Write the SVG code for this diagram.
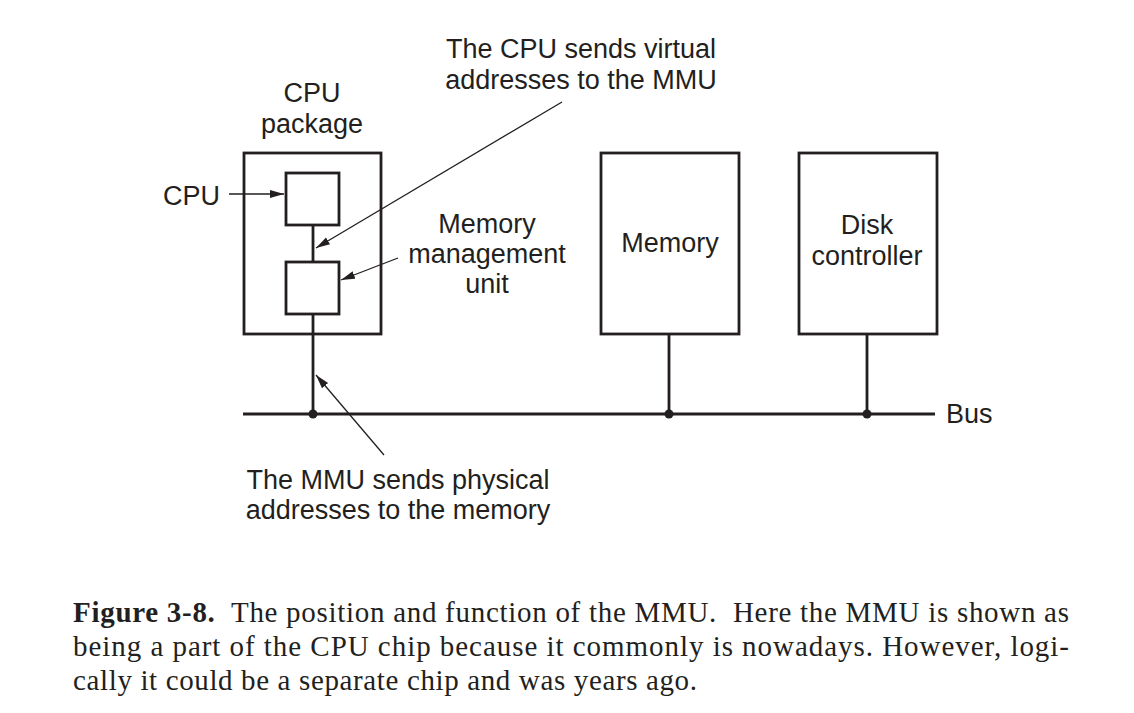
<svg xmlns="http://www.w3.org/2000/svg" width="1134" height="713" viewBox="0 0 1134 713">
<style>
.box{fill:none;stroke:#231f20;stroke-width:2.8}
.wire{fill:none;stroke:#231f20;stroke-width:2.8}
.ptr{fill:none;stroke:#231f20;stroke-width:1.3}
.dot{fill:#231f20}
.lbl{font-family:"Liberation Sans",Arial,sans-serif;font-size:27px;fill:#231f20}
.mid{text-anchor:middle}
.cap{font-family:"Liberation Serif","Times New Roman",serif;font-size:29px;fill:#231f20}
</style>
<defs>
<marker id="ah" markerUnits="userSpaceOnUse" markerWidth="16" markerHeight="10" refX="14" refY="4" orient="auto">
<path d="M0,0 L14,4 L0,8 z" fill="#231f20"/>
</marker>
</defs>
<rect width="1134" height="713" fill="#ffffff"/>

<g id="cpu-package">
<rect class="box" x="244" y="153" width="137" height="181"/>
<text class="lbl mid" x="312" y="102">CPU</text>
<text class="lbl mid" x="312" y="133">package</text>
</g>
<g id="cpu">
<rect class="box" x="286" y="173" width="53" height="52"/>
<text class="lbl" x="220" y="205" text-anchor="end">CPU</text>
</g>
<g id="mmu">
<rect class="box" x="286" y="262" width="53" height="52"/>
<text class="lbl mid" x="487" y="233">Memory</text>
<text class="lbl mid" x="487" y="263">management</text>
<text class="lbl mid" x="487" y="293">unit</text>
</g>
<g id="memory">
<rect class="box" x="601" y="153" width="138" height="181"/>
<text class="lbl mid" x="670" y="252">Memory</text>
</g>
<g id="disk-controller">
<rect class="box" x="799" y="153" width="138" height="181"/>
<text class="lbl mid" x="867" y="234">Disk</text>
<text class="lbl mid" x="867" y="265">controller</text>
</g>
<g id="bus">
<line class="wire" x1="243" y1="414" x2="935" y2="414"/>
<text class="lbl" x="946" y="423">Bus</text>
</g>
<g id="note-virtual">
<text class="lbl mid" x="581" y="58">The CPU sends virtual</text>
<text class="lbl mid" x="581" y="89">addresses to the MMU</text>
</g>
<g id="note-physical">
<text class="lbl mid" x="398" y="489">The MMU sends physical</text>
<text class="lbl mid" x="398" y="519">addresses to the memory</text>
</g>

<g id="connectors">
<line class="wire" x1="313" y1="225" x2="313" y2="262"/>
<line class="wire" x1="313" y1="314" x2="313" y2="414"/>
<line class="wire" x1="669" y1="334" x2="669" y2="414"/>
<line class="wire" x1="867" y1="334" x2="867" y2="414"/>
<circle class="dot" cx="313" cy="414" r="4.5"/>
<circle class="dot" cx="669" cy="414" r="4.5"/>
<circle class="dot" cx="867" cy="414" r="4.5"/>
<line class="ptr" x1="229" y1="194" x2="284" y2="194" marker-end="url(#ah)"/>
<line class="ptr" x1="562" y1="102" x2="316" y2="248" marker-end="url(#ah)"/>
<line class="ptr" x1="398" y1="258" x2="341" y2="280" marker-end="url(#ah)"/>
<line class="ptr" x1="384" y1="455" x2="316" y2="375" marker-end="url(#ah)"/>
</g>

<g id="caption">
<text class="cap" x="73" y="622" textLength="996" lengthAdjust="spacing" xml:space="preserve"><tspan font-weight="bold">Figure 3-8.</tspan>  The position and function of the MMU.  Here the MMU is shown as</text>
<text class="cap" x="73" y="656" textLength="996" lengthAdjust="spacing">being a part of the CPU chip because it commonly is nowadays. However, logi-</text>
<text class="cap" x="73" y="690" textLength="624" lengthAdjust="spacing">cally it could be a separate chip and was years ago.</text>
</g>
</svg>
